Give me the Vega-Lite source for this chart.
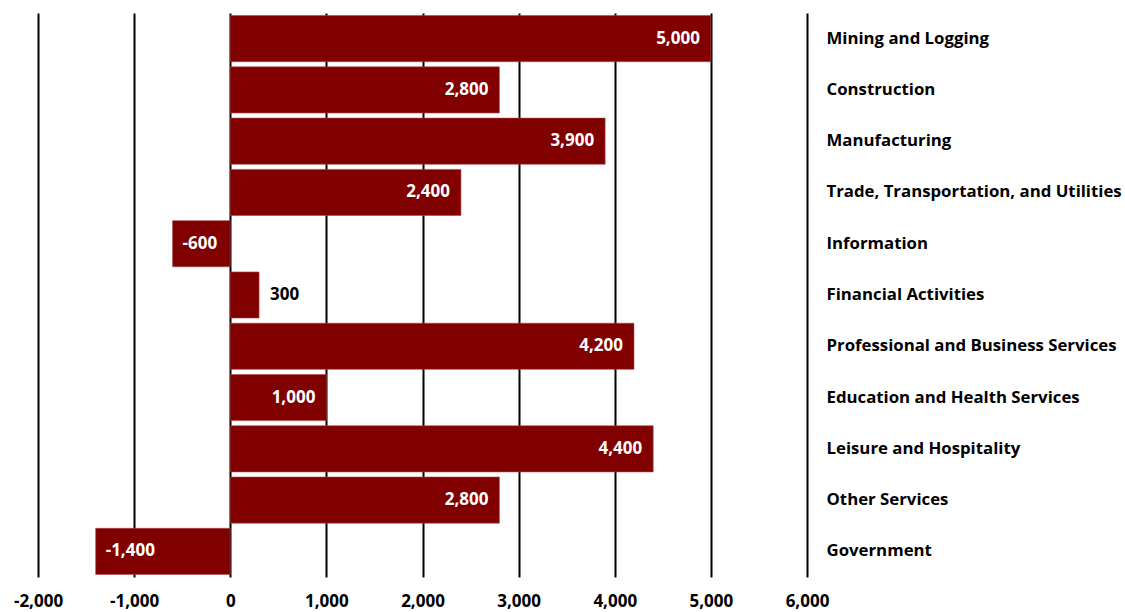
{
  "$schema": "https://vega.github.io/schema/vega-lite/v6.json",
  "autosize": "none",
  "width": 769,
  "height": 564,
  "padding": {"left": 38, "top": 13, "right": 318, "bottom": 35},
  "background": "white",
  "config": {"view": {"stroke": null}, "font": "Open Sans"},
  "data": {
    "values": [
      {"sector": "Mining and Logging", "value": 5000},
      {"sector": "Construction", "value": 2800},
      {"sector": "Manufacturing", "value": 3900},
      {"sector": "Trade, Transportation, and Utilities", "value": 2400},
      {"sector": "Information", "value": -600},
      {"sector": "Financial Activities", "value": 300},
      {"sector": "Professional and Business Services", "value": 4200},
      {"sector": "Education and Health Services", "value": 1000},
      {"sector": "Leisure and Hospitality", "value": 4400},
      {"sector": "Other Services", "value": 2800},
      {"sector": "Government", "value": -1400}
    ]
  },
  "encoding": {
    "y": {
      "field": "sector",
      "type": "nominal",
      "sort": null,
      "scale": {"paddingInner": 0.1, "paddingOuter": 0.05},
      "axis": {
        "orient": "right",
        "title": null,
        "domain": false,
        "ticks": false,
        "labelPadding": 19,
        "labelFont": "Open Sans",
        "labelFontWeight": "bold",
        "labelFontSize": 16.8,
        "labelColor": "black",
        "labelLimit": 400
      }
    },
    "x": {
      "field": "value",
      "type": "quantitative",
      "scale": {"domain": [-2000, 6000], "nice": false},
      "axis": {
        "title": null,
        "values": [-2000, -1000, 0, 1000, 2000, 3000, 4000, 5000, 6000],
        "labelExpr": "replace(format(datum.value, ',d'), '\u2212', '-')",
        "domain": false,
        "ticks": false,
        "grid": true,
        "gridColor": "black",
        "gridWidth": 2,
        "gridOpacity": 1,
        "labelPadding": 16,
        "labelFont": "Open Sans",
        "labelFontWeight": "bold",
        "labelFontSize": 17,
        "labelColor": "black",
        "labelFlush": false
      }
    }
  },
  "layer": [
    {
      "mark": {"type": "bar", "color": "#800000", "stroke": "#a84848", "strokeWidth": 0.6}
    },
    {
      "transform": [{"filter": "datum.value >= 1000"}],
      "mark": {"type": "text", "align": "right", "baseline": "middle", "dx": -11, "color": "white", "fontWeight": "bold", "fontSize": 17, "font": "Open Sans", "text": {"expr": "replace(format(datum.value, ',d'), '\u2212', '-')"}}
    },
    {
      "transform": [{"filter": "datum.value < 0"}],
      "mark": {"type": "text", "align": "left", "baseline": "middle", "dx": 10, "color": "white", "fontWeight": "bold", "fontSize": 17, "font": "Open Sans", "text": {"expr": "replace(format(datum.value, ',d'), '\u2212', '-')"}}
    },
    {
      "transform": [{"filter": "datum.value >= 0 && datum.value < 1000"}],
      "mark": {"type": "text", "align": "left", "baseline": "middle", "dx": 11, "color": "black", "fontWeight": "bold", "fontSize": 17, "font": "Open Sans", "text": {"expr": "replace(format(datum.value, ',d'), '\u2212', '-')"}}
    }
  ]
}
